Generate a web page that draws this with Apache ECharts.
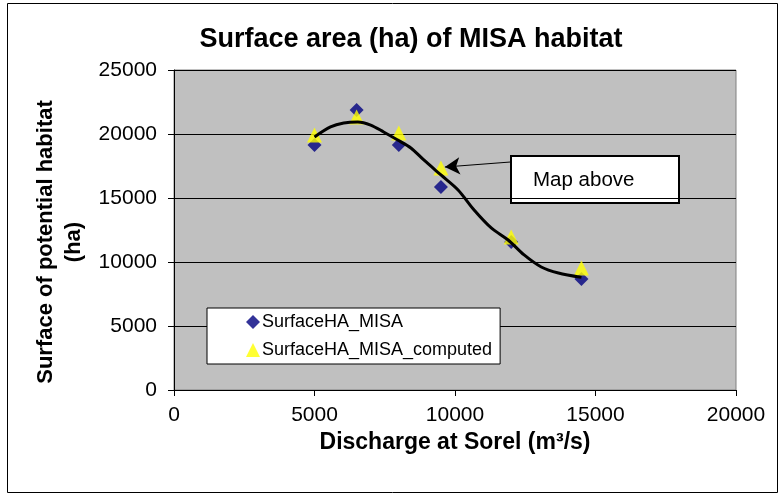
<!DOCTYPE html>
<html>
<head>
<meta charset="utf-8">
<script src="https://cdn.jsdelivr.net/npm/echarts@6/dist/echarts.min.js"></script>
<style>
  html, body { margin: 0; padding: 0; background: #fff; }
  #chart { width: 781px; height: 496px; }
</style>
</head>
<body>
<div id="chart"></div>
<script>
// measured points
const discharge = [5000, 6500, 8000, 9500, 12000, 14500];
const misa = [19140, 21880, 19140, 15860, 11560, 8670];
const misaComputed = [19920, 21330, 20080, 17340, 11950, 9530];

// fitted trend curve
const curveX = [5000, 5570, 6040, 6540, 7000, 7460, 7960, 8430, 8890, 9500, 10110, 10680, 11290, 11890, 12460, 13070, 13680, 14500];
const curveY = [19770, 20550, 20860, 20940, 20700, 20160, 19530, 18910, 17970, 16800, 15630, 14060, 12660, 11720, 10550, 9610, 9140, 8800];

// annotation arrow (from box to point)
const arrowFrom = [11960, 17810];
const arrowTo = [9640, 17420];

const font = "'Liberation Sans', Arial, sans-serif";

let chart = echarts.init(document.getElementById("chart"));

chart.setOption({
  backgroundColor: "#fff",
  animation: false,
  title: {
    text: "Surface area (ha) of MISA habitat",
    left: 406,
    textAlign: "center",
    top: 21,
    textStyle: { fontFamily: font, fontSize: 27, fontWeight: "bold", color: "#000" }
  },
  grid: {
    left: 174, right: 45, top: 70, bottom: 106,
    show: true,
    backgroundColor: "#c0c0c0",
    borderColor: "#808080",
    borderWidth: 1
  },
  legend: {
    orient: "vertical",
    left: 207,
    top: 308,
    padding: [5, 8, 5, 39],
    itemGap: 10,
    itemWidth: 14,
    itemHeight: 14,
    backgroundColor: "#fff",
    borderColor: "#000",
    borderWidth: 1,
    itemStyle: { borderWidth: 0 },
    textStyle: { fontFamily: font, fontSize: 18, color: "#000", padding: [0, 0, 0, -3] },
    data: [
      { name: "SurfaceHA_MISA", icon: "diamond" },
      { name: "SurfaceHA_MISA_computed", icon: "triangle" }
    ]
  },
  xAxis: {
    type: "value",
    min: 0, max: 20000, interval: 5000,
    name: "Discharge at Sorel (m³/s)",
    nameLocation: "middle",
    nameGap: 37,
    nameTextStyle: { fontFamily: font, fontSize: 23, fontWeight: "bold", color: "#000" },
    axisLine: { show: true, onZero: false, lineStyle: { color: "#000", width: 1 } },
    axisTick: { show: true, length: 6, lineStyle: { color: "#000" } },
    axisLabel: { fontFamily: font, fontSize: 21, color: "#000", margin: 15, formatter: v => String(v) },
    splitLine: { show: false }
  },
  yAxis: {
    type: "value",
    min: 0, max: 25000, interval: 5000,
    name: "Surface of potential habitat\n(ha)",
    nameLocation: "middle",
    nameGap: 85,
    nameTextStyle: { fontFamily: font, fontSize: 22, fontWeight: "bold", color: "#000", lineHeight: 28, padding: [0, 24, 0, 0] },
    axisLine: { show: true, lineStyle: { color: "#000", width: 1 } },
    axisTick: { show: true, length: 6, lineStyle: { color: "#000" } },
    axisLabel: { fontFamily: font, fontSize: 21, color: "#000", margin: 17, formatter: v => String(v) },
    splitLine: { show: true, lineStyle: { color: "#000", width: 1 } }
  },
  series: [
    {
      name: "SurfaceHA_MISA",
      type: "scatter",
      symbol: "diamond",
      symbolSize: 14,
      itemStyle: { color: "#000080" },
      data: discharge.map((x, i) => [x, misa[i]]),
      z: 3
    },
    {
      name: "SurfaceHA_MISA_computed",
      type: "scatter",
      symbol: "triangle",
      symbolSize: 15,
      itemStyle: { color: "#ffff00" },
      data: discharge.map((x, i) => [x, misaComputed[i]]),
      z: 4
    },
    {
      name: "trend",
      type: "line",
      smooth: 0.3,
      showSymbol: false,
      lineStyle: { color: "#000", width: 3 },
      data: curveX.map((x, i) => [x, curveY[i]]),
      z: 5,
      markLine: {
        silent: true,
        symbol: ["none", "arrow"],
        symbolSize: [13, 15],
        lineStyle: { color: "#000", width: 1, type: "solid" },
        label: { show: false },
        data: [[{ coord: arrowFrom }, { coord: arrowTo }]]
      }
    }
  ],
  graphic: [
    {
      type: "rect",
      shape: { x: 7.5, y: 3.5, width: 770, height: 489 },
      style: { fill: "none", stroke: "#000", lineWidth: 1 },
      silent: true
    },
    {
      type: "group",
      left: 510,
      top: 155,
      z: 100,
      children: [
        {
          type: "rect",
          shape: { x: 0, y: 0, width: 168, height: 47 },
          style: { fill: "#fff", stroke: "#000", lineWidth: 2 }
        },
        {
          type: "text",
          x: 22,
          y: 24,
          style: {
            text: "Map above",
            fontFamily: font,
            fontSize: 20.5,
            fill: "#000",
            verticalAlign: "middle"
          }
        }
      ]
    }
  ]
});
</script>
</body>
</html>
